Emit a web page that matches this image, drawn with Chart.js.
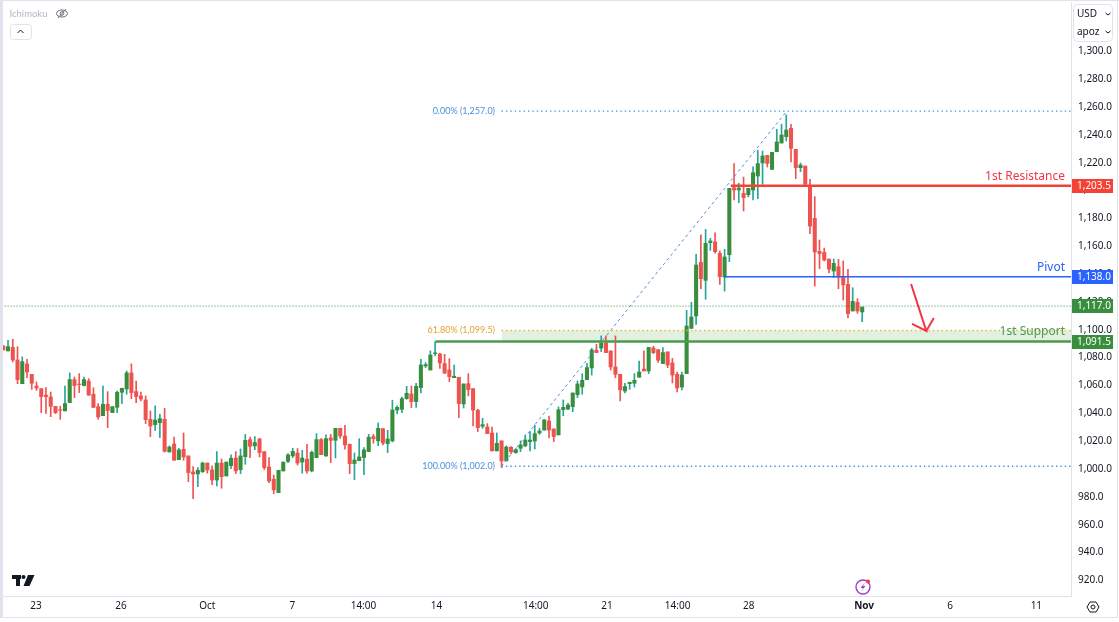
<!DOCTYPE html>
<html lang="en">
<head>
  <meta charset="UTF-8" />
  <title>Ichimoku</title>
  <script src="https://cdn.jsdelivr.net/npm/chart.js"></script>
  <style>
    html, body { margin: 0; padding: 0; background: #ffffff; overflow: hidden; }
    #wrap { position: relative; width: 1119px; height: 622px; }
  </style>
</head>
<body>
  <div id="wrap"><canvas id="myChart" width="1119" height="622"></canvas></div>

  <script>
    // candles, oldest first
    const opens = [
      1088.4,1084.8,1087.4,1078.3,1061.3,1075.5,1068,1059.6,1057.7,1053,
      1051.7,1045,1042.7,1041.7,1047.7,1064.2,1061,1059.9,1063.2,1053.7,
      1044.8,1038.3,1046.5,1040.5,1044.3,1055.1,1057.5,1069,1055.6,1052.5,
      1049.6,1035.7,1031.9,1033.3,1035.7,1012.2,1018,1006.7,1014.2,1009.4,
      997.9,996.4,998.1,1004.3,999.3,992.1,1004.3,995,1002.4,1007.9,
      999.6,1008.9,1021.1,1016.6,1021.6,1012.5,1001.5,992.6,983,998.6,
      1005.5,1009.4,1011.5,1005,1007,998.6,1008.2,1021.1,1009.4,1022.3,
      1020.6,1029.2,1023.7,1017.8,1003.9,1006,1008.2,1012.5,1023.3,1020.2,
      1029,1018.2,1020.2,1042.4,1042.9,1050.5,1053.9,1048.4,1058.4,1074,
      1071.1,1082.9,1082.6,1075.7,1071.1,1065.6,1065.9,1046.7,1061.3,1057.7,
      1042.2,1030.7,1030.2,1025.9,1013,1020.2,1005.8,1015.6,1011.8,1014.9,
      1016.6,1019.7,1020.1,1025.9,1028,1034.5,1028.8,1024.5,1042.6,1043.1,
      1044.8,1053.4,1058.9,1064.2,1072.6,1085.3,1086.9,1090.5,1084.8,1073.3,
      1068,1056,1061.3,1061.6,1065.9,1071.8,1070.4,1086.9,1085.7,1075.7,
      1084.1,1076.2,1068,1058.9,1068.5,1101,1109.9,1148.4,1135.5,1162.6,
      1163.1,1154.9,1137.9,1153.9,1202,1200.4,1198,1197,1200.4,1210.4,
      1219.8,1225.3,1215.2,1227.9,1234.1,1238.7,1244.7,1229.6,1216.4,1217.6,
      1203.3,1180,1156.3,1155.6,1150.8,1142.2,1145.3,1137.9,1132.6,1113.5,
      1119.7,1112.8
    ];
    const highs = [
      1088.4,1092.4,1093.2,1087.9,1080.5,1078.8,1068,1062.5,1057.7,1058.4,
      1055.3,1045,1045,1059.6,1069,1066.1,1068.5,1066.1,1064.9,1058.4,
      1047,1059.6,1055.6,1044.8,1056,1058,1070.4,1075.5,1063.2,1055.3,
      1052.5,1041.7,1045.3,1039.3,1043.6,1016.6,1023,1014.9,1025.9,1009.4,
      1001.7,1001,1005,1004.3,1002.2,1012.5,1007.2,1005,1010.1,1012.5,
      1014.4,1024.9,1023,1023.3,1022,1012.5,1008.2,995.7,999.1,1005,
      1011,1014.9,1014.7,1013.4,1017.8,1013,1025.4,1022,1024.5,1024.9,
      1029.2,1029.2,1031.4,1017.8,1011.5,1021.8,1015.4,1024.9,1024.9,1033.1,
      1029,1027.8,1049.4,1045.3,1051.7,1059.4,1059.6,1061.6,1078.8,1076.4,
      1084.8,1091.5,1083.1,1082.4,1079.3,1074.7,1065.9,1061.1,1068.5,1057.7,
      1042.9,1036.4,1032.6,1030.2,1025.9,1020.2,1016.6,1016.1,1014.7,1020.2,
      1024.5,1026.8,1031.6,1029.2,1035.7,1038.1,1028.8,1044.6,1049.6,1047.2,
      1054.6,1063.2,1068.5,1075.9,1086.7,1089.6,1095.6,1095.6,1084.8,1095.6,
      1068,1061.6,1062.3,1068.5,1077.6,1084.8,1087.4,1088.1,1085.7,1087.2,
      1084.1,1079.5,1069.7,1069.7,1114,1119.7,1154.2,1168.1,1172.1,1165.7,
      1169.7,1156.6,1157.8,1201.6,1219.3,1205.2,1209.7,1201.6,1217.1,1228.9,
      1228.4,1225.3,1227.4,1244,1247.6,1254.3,1247.6,1229.6,1219.8,1217.6,
      1208,1195.6,1164.5,1158.7,1150.8,1150.8,1150.6,1149.4,1143.4,1130.2,
      1122.3,1116.3
    ];
    const lows = [
      1085.5,1084.8,1076.9,1061.3,1061.3,1065.6,1057.2,1056.5,1040.5,1040,
      1037.6,1039.8,1035.7,1041.7,1047.7,1051.3,1054.9,1059.6,1053,1044,
      1035.7,1038.3,1029.7,1040.5,1040.5,1047,1053.7,1050.5,1047.7,1048.9,
      1032.6,1023.3,1027.8,1022.5,1012.2,1012.2,1006.3,1006.7,1006.3,990.9,
      978.7,987.3,997.4,997,988.8,987.8,986.2,995,1000.3,996.7,
      996.7,1003.4,1008.2,1013.9,1008.7,999.6,990.2,982.3,983,998.6,
      1004.6,1008.2,1002.9,997,997,997.9,1008.2,1010.3,1009.1,1004.6,
      1008,1022,1014.2,996.7,992.4,1006,996,1012.5,1018.5,1016.8,
      1017.3,1011.8,1019.4,1039.8,1040.5,1050.1,1044.1,1044.3,1054.6,1072.8,
      1071.1,1081.2,1072.3,1068.8,1062.8,1065.6,1036.9,1043.8,1052.5,1030.9,
      1026.9,1029.2,1025.4,1013,1013,1001,1005.8,1011,1011.3,1012.5,
      1016.1,1013,1014.4,1024.9,1027.8,1022.3,1019.7,1024.5,1038.3,1042.6,
      1041.2,1051.3,1053.7,1064.2,1067.5,1083.6,1084.3,1083.6,1071.1,1065.6,
      1048.9,1054.6,1057.2,1058.9,1065.9,1070.4,1068.5,1082.9,1076.6,1075.7,
      1072.8,1061.8,1055.3,1056.8,1068.5,1101,1103.9,1129.5,1121.9,1157,
      1155.1,1132.6,1127.8,1148.9,1193.2,1191.3,1185.3,1195.4,1193.2,1194.2,
      1204.5,1216.9,1215.2,1227.9,1234.1,1235.6,1220.5,1208.5,1213.6,1203.3,
      1169,1131.4,1143.9,1149.4,1140.8,1137.4,1129.5,1121.4,1108.5,1113.5,
      1111.8,1105.8
    ];
    const closes = [
      1085.5,1087.9,1078.3,1064.2,1077.1,1069.7,1061.6,1058.2,1052,1052,
      1045,1040.5,1042.2,1047,1064.2,1059.9,1060.6,1064.2,1053,1044.3,
      1037.4,1046.5,1042,1044.8,1055.1,1058,1069,1054.9,1052,1050.3,
      1035.5,1030.9,1035.2,1036.2,1012.7,1015.8,1006.3,1013.7,1008.6,997.4,
      996.4,999.1,1004.3,999.3,992.1,1004.3,994.5,1005,1007.7,998.6,
      1009.4,1020.6,1016.3,1019,1011.8,1001,991.4,985,999.1,1005,
      1010.1,1012.7,1004.3,1007.9,998.6,1012,1021.1,1010.3,1021.8,1020.6,
      1029.2,1023.7,1017.3,1003.9,1006.5,1008.7,1013.7,1022.8,1021.8,1029.2,
      1018.7,1021.6,1042.4,1044.3,1050.5,1054.4,1048.4,1059.4,1074.7,1075,
      1081.9,1083.4,1076.2,1068.8,1066.3,1066.6,1047,1061.1,1057,1042.4,
      1029.7,1031.9,1025.4,1013,1018.5,1005.8,1015.8,1012.5,1013.9,1017.3,
      1020.9,1020.8,1025.4,1027.3,1035.2,1028,1023.3,1042.6,1044.3,1046,
      1054.6,1061.1,1063.7,1072.8,1085.5,1083.6,1090.3,1083.6,1073.3,1068,
      1056.8,1059.2,1062.3,1063.7,1069.7,1070.4,1087.4,1083.6,1078.1,1083.6,
      1074.7,1067.5,1058.2,1067.5,1102.7,1109.2,1146.5,1136.7,1162.1,1163.8,
      1156.1,1138.1,1152.3,1201.6,1200.4,1201.8,1194.9,1201.6,1212.8,1219.3,
      1224.8,1219.5,1227.4,1234.9,1239.9,1243.5,1230.3,1216.4,1218.3,1204.5,
      1174.5,1155.9,1154.7,1150.1,1143.6,1147.7,1137.7,1132.2,1111.6,1120.4,
      1113.5,1116.3
    ];

    // axis ticks (x is candle number, extends past the last candle)
    const timeTicks = [6.9, 24.8, 43, 60.9, 75.9, 91.3, 112.2, 127.2, 142.1, 157.1, 181.4, 199.5, 217.7];
    const timeLabels = ['23', '26', 'Oct', '7', '14:00', '14', '14:00', '21', '14:00', '28', 'Nov', '6', '11'];
    const priceTicks = [920, 940, 960, 980, 1000, 1020, 1040, 1060, 1080, 1100, 1120, 1140, 1160, 1180, 1200, 1220, 1240, 1260, 1280, 1300];

    // levels
    const resistance = 1203.5;
    const pivot = 1138;
    const support = 1091.5;
    const lastPrice = 1117;
    const fib0 = 1257;
    const fib618 = 1099.5;
    const fib100 = 1002;

    // where drawings start, in candles
    const xEnd = 225;
    const resistanceStart = 153.3;
    const pivotStart = 152;
    const supportStart = 91.1;
    const fibStart = 105;
    const fibTop = 165.1;

    // hand drawn arrow [candle, price]
    const arrowPath = [[191.3, 1132.9], [194.5, 1099.2], [191.5, 1104.2], [194.5, 1099.2], [196.1, 1108.5]];

    const RED = '#ef5350', GREEN = '#388e3c', TEAL = '#26a69a';
    const AXIS_LINE = '#e0e3eb';
    const FONT = '"Noto Sans", sans-serif';
    const SMALL_FONT = 'Lato, sans-serif';

    const idx = opens.map((_, i) => i);
    const isUp = i => closes[i] >= opens[i];
    const hline = (from, y) => [{ x: from, y: y }, { x: xEnd, y: y }];

    function lineSet(data, color, width, order, extra) {
      return Object.assign({
        type: 'line', data: data, borderColor: color, borderWidth: width,
        pointRadius: 0, order: order, fill: false, tension: 0
      }, extra || {});
    }

    // everything that is not a dataset: labels, price tags, toolbar bits
    const overlay = {
      id: 'overlay',
      afterDraw(chart) {
        const c = chart.ctx, y = chart.scales.y;
        c.save();
        c.textBaseline = 'middle';

        // frame
        c.fillStyle = AXIS_LINE;
        c.fillRect(0, 0, 3, 617);
        c.fillRect(0, 0, 1119, 1);
        c.fillRect(0, 617, 1118, 1);
        c.fillRect(1117, 0, 1, 618);

        // labels on the lines
        c.font = '12px ' + FONT;
        c.textAlign = 'right';
        c.fillStyle = '#f23645';
        c.fillText('1st Resistance', 1065, y.getPixelForValue(resistance) - 9);
        c.fillStyle = '#2962ff';
        c.fillText('Pivot', 1065, y.getPixelForValue(pivot) - 9);
        c.fillStyle = '#4c9a50';
        c.fillText('1st Support', 1065, y.getPixelForValue(support) - 10);

        c.font = '9px ' + SMALL_FONT;
        c.fillStyle = '#4a90e2';
        c.fillText('0.00% (1,257.0)', 495, y.getPixelForValue(fib0));
        c.fillText('100.00% (1,002.0)', 495, y.getPixelForValue(fib100));
        c.fillStyle = '#e5a32e';
        c.fillText('61.80% (1,099.5)', 495, y.getPixelForValue(fib618));

        // price tags
        const tags = [[resistance, '1,203.5', '#f44336'], [pivot, '1,138.0', '#2962ff'],
                      [lastPrice, '1,117.0', GREEN], [support, '1,091.5', GREEN]];
        c.font = '10px ' + FONT;
        c.textAlign = 'left';
        tags.forEach(t => {
          const py = Math.round(y.getPixelForValue(t[0]));
          c.fillStyle = t[2];
          c.fillRect(1072, py - 7, 41, 14);
          c.fillStyle = '#ffffff';
          c.fillText(t[1], 1077, py + 0.5);
        });

        // top left
        c.font = '9.5px ' + SMALL_FONT;
        c.fillStyle = '#b2b5be';
        c.fillText('Ichimoku', 9.5, 14);
        c.strokeStyle = '#6a6d78';
        c.lineWidth = 1;
        c.beginPath();
        c.ellipse(62, 13.5, 5.5, 3.5, 0, 0, Math.PI * 2);
        c.moveTo(58, 18); c.lineTo(66, 9);
        c.stroke();
        c.beginPath();
        c.arc(62, 13.5, 1.8, 0, Math.PI * 2);
        c.stroke();

        c.strokeStyle = AXIS_LINE;
        c.beginPath();
        c.roundRect(10.5, 24.5, 21, 15, 3);
        c.stroke();
        c.strokeStyle = '#131722';
        c.beginPath();
        c.moveTo(17.5, 33); c.lineTo(20.5, 30); c.lineTo(23.5, 33);
        c.stroke();

        // top right dropdowns
        c.fillStyle = '#ffffff';
        c.fillRect(1072, 2, 45, 40);
        c.strokeStyle = AXIS_LINE;
        c.beginPath();
        c.roundRect(1073.5, 4.5, 39, 37, 4);
        c.stroke();
        c.fillStyle = '#131722';
        c.font = '10px ' + FONT;
        c.fillText('USD', 1077, 14);
        c.fillText('apoz', 1077, 32);
        c.strokeStyle = '#131722';
        [14, 32].forEach(v => {
          c.beginPath();
          c.moveTo(1105.5, v - 1); c.lineTo(1108, v + 1); c.lineTo(1110.5, v - 1);
          c.stroke();
        });

        // TV logo
        c.fillStyle = '#131722';
        c.fillRect(12, 575, 9, 4);
        c.fillRect(16, 575, 4, 11);
        c.beginPath(); c.arc(23.5, 577, 2, 0, Math.PI * 2); c.fill();
        c.beginPath();
        c.moveTo(28, 575); c.lineTo(34.5, 575); c.lineTo(29.5, 586); c.lineTo(23.5, 586);
        c.fill();

        // lightning badge
        c.strokeStyle = '#a23bc9';
        c.lineWidth = 1.4;
        c.beginPath(); c.arc(863, 587, 7, 0, Math.PI * 2); c.stroke();
        c.fillStyle = '#a23bc9';
        c.beginPath();
        c.moveTo(865, 582.5); c.lineTo(860.5, 588); c.lineTo(863, 588); c.lineTo(861, 591.5);
        c.lineTo(865.5, 586); c.lineTo(863, 586); c.closePath();
        c.fill();
        c.fillStyle = '#f23645';
        c.beginPath(); c.arc(868, 581.5, 2, 0, Math.PI * 2); c.fill();

        // settings icon
        c.strokeStyle = '#131722';
        c.lineWidth = 1;
        c.beginPath();
        c.moveTo(1087, 607); c.lineTo(1090, 602); c.lineTo(1096, 602);
        c.lineTo(1099, 607); c.lineTo(1096, 612); c.lineTo(1090, 612); c.closePath();
        c.stroke();
        c.beginPath(); c.arc(1093, 607, 2, 0, Math.PI * 2); c.stroke();

        c.restore();
      }
    };

    const ctx = document.getElementById('myChart').getContext('2d');
    const myChart = new Chart(ctx, {
      type: 'bar',
      data: {
        datasets: [
          lineSet(hline(fibStart, fib618), 'rgba(0,0,0,0)', 0, 6, { fill: { value: support }, backgroundColor: '#e1f0df' }),
          {
            data: idx.map(i => ({ x: i, y: [lows[i], highs[i]] })),
            backgroundColor: idx.map(i => isUp(i) ? TEAL : RED),
            barThickness: 1, grouped: false, order: 5
          },
          {
            data: idx.map(i => ({ x: i, y: [opens[i], closes[i]] })),
            backgroundColor: idx.map(i => isUp(i) ? GREEN : RED),
            barThickness: 3.4, grouped: false, order: 4
          },
          lineSet(hline(-1, lastPrice), '#2e8b3a', 1, 3, { borderDash: [1, 2] }),
          lineSet(hline(fibStart, fib0), '#4a90e2', 1.4, 3, { borderDash: [1.4, 3] }),
          lineSet(hline(fibStart, fib100), '#4a90e2', 1.4, 3, { borderDash: [1.4, 3] }),
          lineSet(hline(fibStart, fib618), '#f0b03c', 1.4, 3, { borderDash: [1.4, 3] }),
          lineSet([{ x: fibStart, y: fib100 }, { x: fibTop, y: fib0 }], '#4a90e2', 1, 3, { borderDash: [3, 3] }),
          lineSet(hline(supportStart, support), '#4c9a50', 2.5, 2),
          lineSet(hline(pivotStart, pivot), '#2962ff', 1.5, 2),
          lineSet(hline(resistanceStart, resistance), '#f44336', 2.5, 2),
          lineSet(arrowPath.map(p => ({ x: p[0], y: p[1] })), '#f23645', 2, 1)
        ]
      },
      options: {
        responsive: false,
        animation: false,
        layout: { padding: { left: 3, top: 2, right: 2, bottom: 5 } },
        plugins: { legend: { display: false }, tooltip: { enabled: false } },
        scales: {
          x: {
            type: 'linear',
            offset: false,
            min: -0.06,
            max: xEnd,
            grid: { display: false, drawTicks: false, offset: false },
            border: { display: true, color: AXIS_LINE },
            afterBuildTicks: s => { s.ticks = timeTicks.map(v => ({ value: v })); },
            afterFit: s => { s.height = 21; s.paddingLeft = 0; s.paddingRight = 0; },
            ticks: {
              autoSkip: false,
              maxRotation: 0,
              padding: 4,
              color: '#131722',
              font: c => ({ family: FONT, size: 10, weight: timeLabels[c.index] === 'Nov' ? 'bold' : 'normal' }),
              callback: (v, i) => timeLabels[i]
            }
          },
          y: {
            position: 'right',
            min: 908.8,
            max: 1335.4,
            grid: { display: false, drawTicks: false },
            border: { display: true, color: AXIS_LINE },
            afterBuildTicks: s => { s.ticks = priceTicks.map(v => ({ value: v })); },
            afterFit: s => { s.width = 46; s.paddingTop = 0; s.paddingBottom = 0; },
            ticks: {
              autoSkip: false,
              padding: 7,
              color: '#131722',
              font: { family: FONT, size: 10 },
              callback: v => v.toLocaleString('en-US', { minimumFractionDigits: 1 })
            }
          }
        }
      },
      plugins: [overlay]
    });
  </script>
</body>
</html>
